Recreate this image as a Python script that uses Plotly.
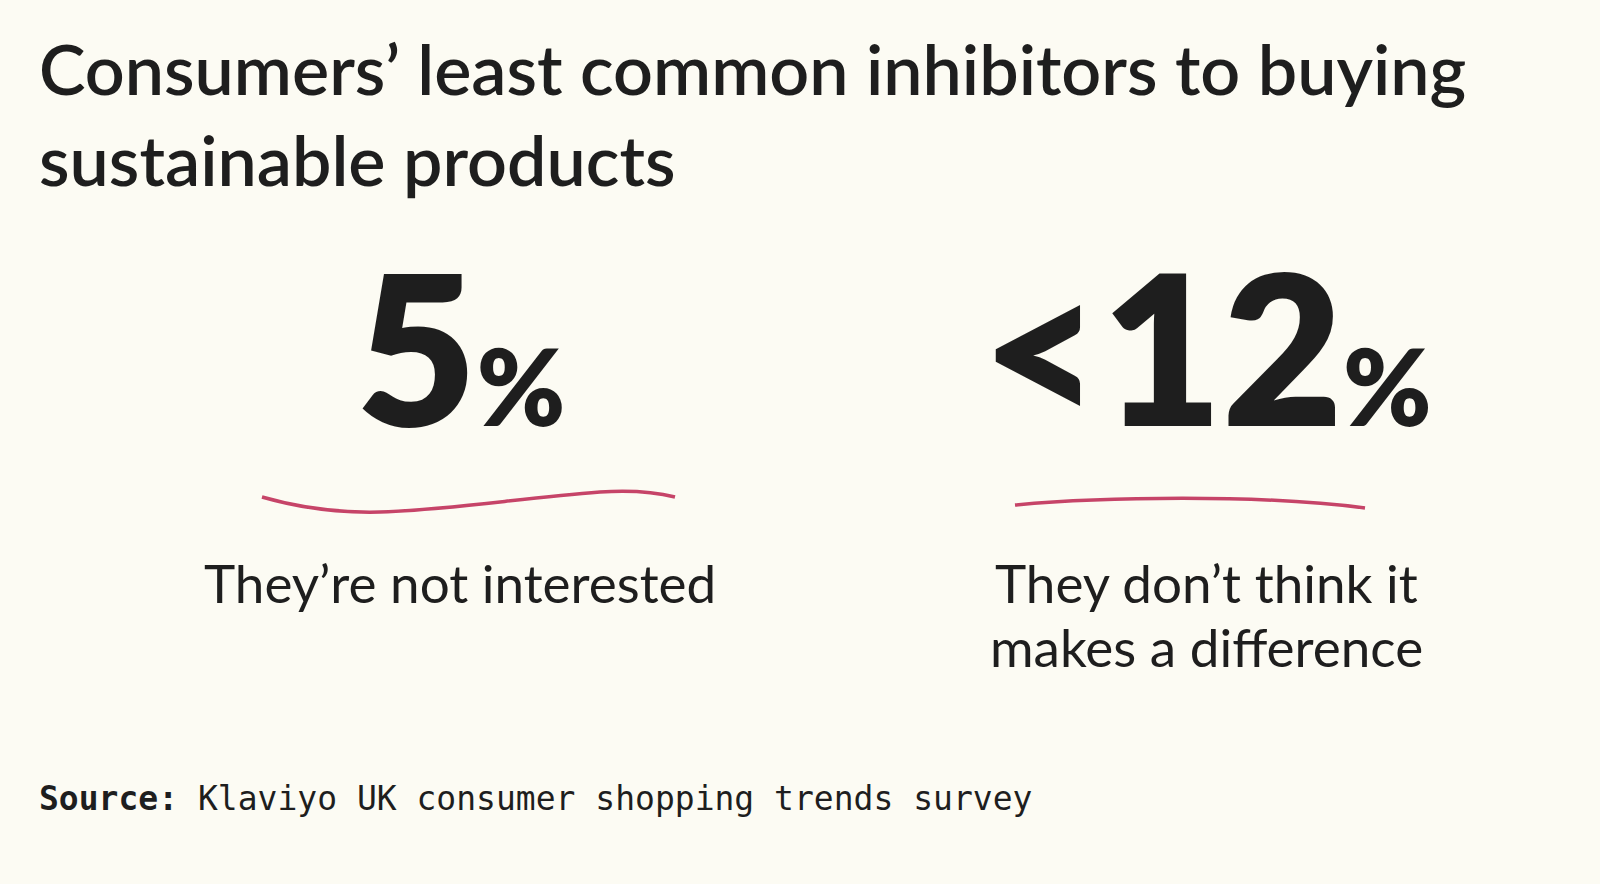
import plotly.graph_objects as go

# ---- content ----
title_lines = ["Consumers’ least common inhibitors to buying", "sustainable products"]
stat_values = ["5", "<12"]
stat_units = ["%", "%"]
stat_labels = [["They’re not interested"], ["They don’t think it", "makes a difference"]]
source_label = "Source:"
source_text = "Klaviyo UK consumer shopping trends survey"

# ---- style ----
BG = "#FCFBF3"
INK = "#1E1E1E"
ACCENT = "#C64468"
SANS = "Lato, 'Open Sans', sans-serif"
MONO = "'DejaVu Sans Mono', monospace"
W, H = 1600, 884

col_centers = [460, 1206]
stat_bottom = 472
label_top = 549
label_line_gap = 64

fig = go.Figure()

annotations = []
# title
annotations.append(dict(
    text="<br>".join(title_lines), x=37, y=24, xref="x", yref="y",
    xanchor="left", yanchor="top", align="left", showarrow=False,
    font=dict(family=SANS, size=70, color=INK, weight=600),
))

for c, v, u, lab in zip(col_centers, stat_values, stat_units, stat_labels):
    annotations.append(dict(
        text=f"{v}<span style='font-size:106px'>{u}</span>",
        x=c, y=stat_bottom, xref="x", yref="y",
        xanchor="center", yanchor="bottom", showarrow=False,
        font=dict(family=SANS, size=208, color=INK, weight=800),
    ))
    for i, line in enumerate(lab):
        annotations.append(dict(
            text=line, x=c, y=label_top + i * label_line_gap, xref="x", yref="y",
            xanchor="center", yanchor="top", align="center", showarrow=False,
            font=dict(family=SANS, size=53, color=INK, weight=400),
        ))

annotations.append(dict(
    text=f"<b>{source_label}</b> {source_text}", x=37, y=820, xref="x", yref="y",
    xanchor="left", yanchor="bottom", align="left", showarrow=False,
    font=dict(family=MONO, size=33, color=INK),
))

# decorative hand-drawn underlines
shapes = [
    dict(type="path", xref="x", yref="y",
         path="M 262,497 C 300,508 340,513 380,512 C 450,510 520,498 600,492 C 630,490 655,492 675,497",
         line=dict(color=ACCENT, width=3.5)),
    dict(type="path", xref="x", yref="y",
         path="M 1015,505 C 1100,497 1260,494 1365,508",
         line=dict(color=ACCENT, width=3.5)),
]

fig.update_layout(
    width=W, height=H,
    margin=dict(l=0, r=0, t=0, b=0),
    paper_bgcolor=BG, plot_bgcolor=BG,
    xaxis=dict(range=[0, W], visible=False, fixedrange=True),
    yaxis=dict(range=[H, 0], visible=False, fixedrange=True),
    annotations=annotations, shapes=shapes, showlegend=False,
)

fig.write_html(
    "out.html",
    config={"displayModeBar": False},
    post_script="document.body.style.margin='0';document.body.style.overflow='hidden';",
)
